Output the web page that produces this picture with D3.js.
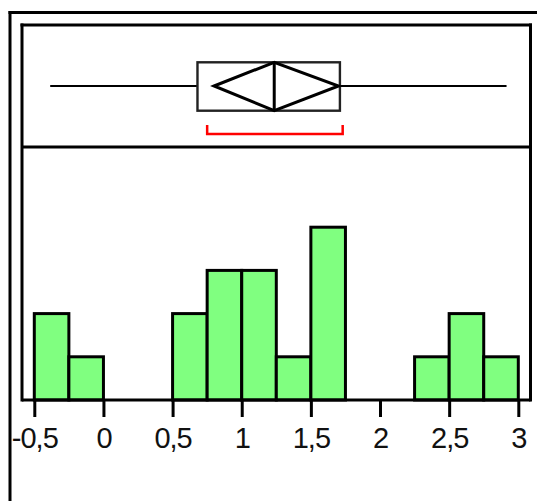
<!DOCTYPE html>
<html>
<head>
<meta charset="utf-8">
<script src="https://cdn.jsdelivr.net/npm/d3@7"></script>
<style>
  html, body { margin: 0; padding: 0; background: #fff; }
  svg { display: block; }
</style>
</head>
<body>
<script>
// ---- data ----
const binStarts = [-0.5, -0.25, 0, 0.25, 0.5, 0.75, 1, 1.25, 1.5, 1.75, 2, 2.25, 2.5, 2.75];
const binWidth = 0.25;
const counts = [2, 1, 0, 0, 2, 3, 3, 1, 4, 0, 0, 1, 2, 1];
const tickValues = [-0.5, 0, 0.5, 1, 1.5, 2, 2.5, 3];
const tickLabels = ["-0,5", "0", "0,5", "1", "1,5", "2", "2,5", "3"];
const whiskerLow = -0.385, whiskerHigh = 2.915;
const q1 = 0.68, median = 1.235, q3 = 1.71;
const meanCI = [0.80, 1.70];
const shortestHalf = [0.75, 1.73];

(function () {
const W = 537, H = 501;
const svg = d3.select("body").append("svg").attr("width", W).attr("height", H);

const x = d3.scaleLinear().domain([-0.5, 3]).range([34.3, 518.3]);
const y = d3.scaleLinear().domain([0, 6]).range([400, 140.8]);

const pLeft = 22, pRight = 530.5, pTop = 25, pSep = 147, pBase = 400;

// outer frame (top + left)
svg.append("line").attr("x1", 8.5).attr("x2", W).attr("y1", 12.5).attr("y2", 12.5)
  .attr("stroke", "#000").attr("stroke-width", 3);
svg.append("line").attr("x1", 10).attr("x2", 10).attr("y1", 11).attr("y2", H)
  .attr("stroke", "#000").attr("stroke-width", 3);

// histogram bars
svg.append("g").selectAll("rect").data(counts.map((c, i) => ({ c, s: binStarts[i] })).filter(d => d.c > 0))
  .join("rect")
  .attr("x", d => x(d.s))
  .attr("width", d => x(d.s + binWidth) - x(d.s))
  .attr("y", d => y(d.c))
  .attr("height", d => y(0) - y(d.c))
  .attr("fill", "#80ff80")
  .attr("stroke", "#000")
  .attr("stroke-width", 3);

// inner frame
const frame = svg.append("g").attr("stroke", "#000").attr("stroke-width", 3).attr("fill", "none");
frame.append("line").attr("x1", pLeft - 1.5).attr("x2", pRight + 1.5).attr("y1", pTop).attr("y2", pTop);
frame.append("line").attr("x1", pLeft).attr("x2", pLeft).attr("y1", pTop - 1.5).attr("y2", pBase + 1.5);
frame.append("line").attr("x1", pRight).attr("x2", pRight).attr("y1", pTop - 1.5).attr("y2", pBase + 1.5);
frame.append("line").attr("x1", pLeft).attr("x2", pRight).attr("y1", pSep).attr("y2", pSep);

// x axis
const axis = d3.axisBottom(x).tickValues(tickValues).tickSize(17).tickPadding(10)
  .tickFormat((d, i) => tickLabels[i]);
const ax = svg.append("g").attr("transform", `translate(0,${pBase})`).call(axis);
ax.select(".domain").remove();
ax.selectAll(".tick line").attr("stroke", "#000").attr("stroke-width", 3);
ax.selectAll(".tick text")
  .attr("font-family", "'Liberation Sans', Arial, sans-serif")
  .attr("font-size", 29).attr("letter-spacing", -1).attr("fill", "#111")
  .attr("dy", "0.71em").attr("y", 27.5);
svg.append("line").attr("x1", pLeft).attr("x2", pRight).attr("y1", pBase).attr("y2", pBase)
  .attr("stroke", "#000").attr("stroke-width", 3);

// box plot
const cy = 86, bt = 62.3, bb = 110.7;
const bp = svg.append("g");
bp.append("line").attr("x1", x(whiskerLow)).attr("x2", x(q1)).attr("y1", cy).attr("y2", cy)
  .attr("stroke", "#000").attr("stroke-width", 2.2);
bp.append("line").attr("x1", x(q3)).attr("x2", x(whiskerHigh)).attr("y1", cy).attr("y2", cy)
  .attr("stroke", "#000").attr("stroke-width", 2.2);
bp.append("rect").attr("x", x(q1)).attr("y", bt).attr("width", x(q3) - x(q1)).attr("height", bb - bt)
  .attr("fill", "none").attr("stroke", "#222").attr("stroke-width", 2.4);
const mid = x(median);
bp.append("path")
  .attr("d", `M${x(meanCI[0])},${cy} L${mid},${bt} L${x(meanCI[1])},${cy} L${mid},${bb} Z`)
  .attr("fill", "none").attr("stroke", "#000").attr("stroke-width", 3).attr("stroke-linejoin", "miter");
bp.append("line").attr("x1", mid).attr("x2", mid).attr("y1", bt).attr("y2", bb)
  .attr("stroke", "#000").attr("stroke-width", 3);

// shortest half bracket
svg.append("path")
  .attr("d", `M${x(shortestHalf[0])},125 L${x(shortestHalf[0])},134 L${x(shortestHalf[1])},134 L${x(shortestHalf[1])},125`)
  .attr("fill", "none").attr("stroke", "#ff0000").attr("stroke-width", 2.5);
})();
</script>
</body>
</html>
